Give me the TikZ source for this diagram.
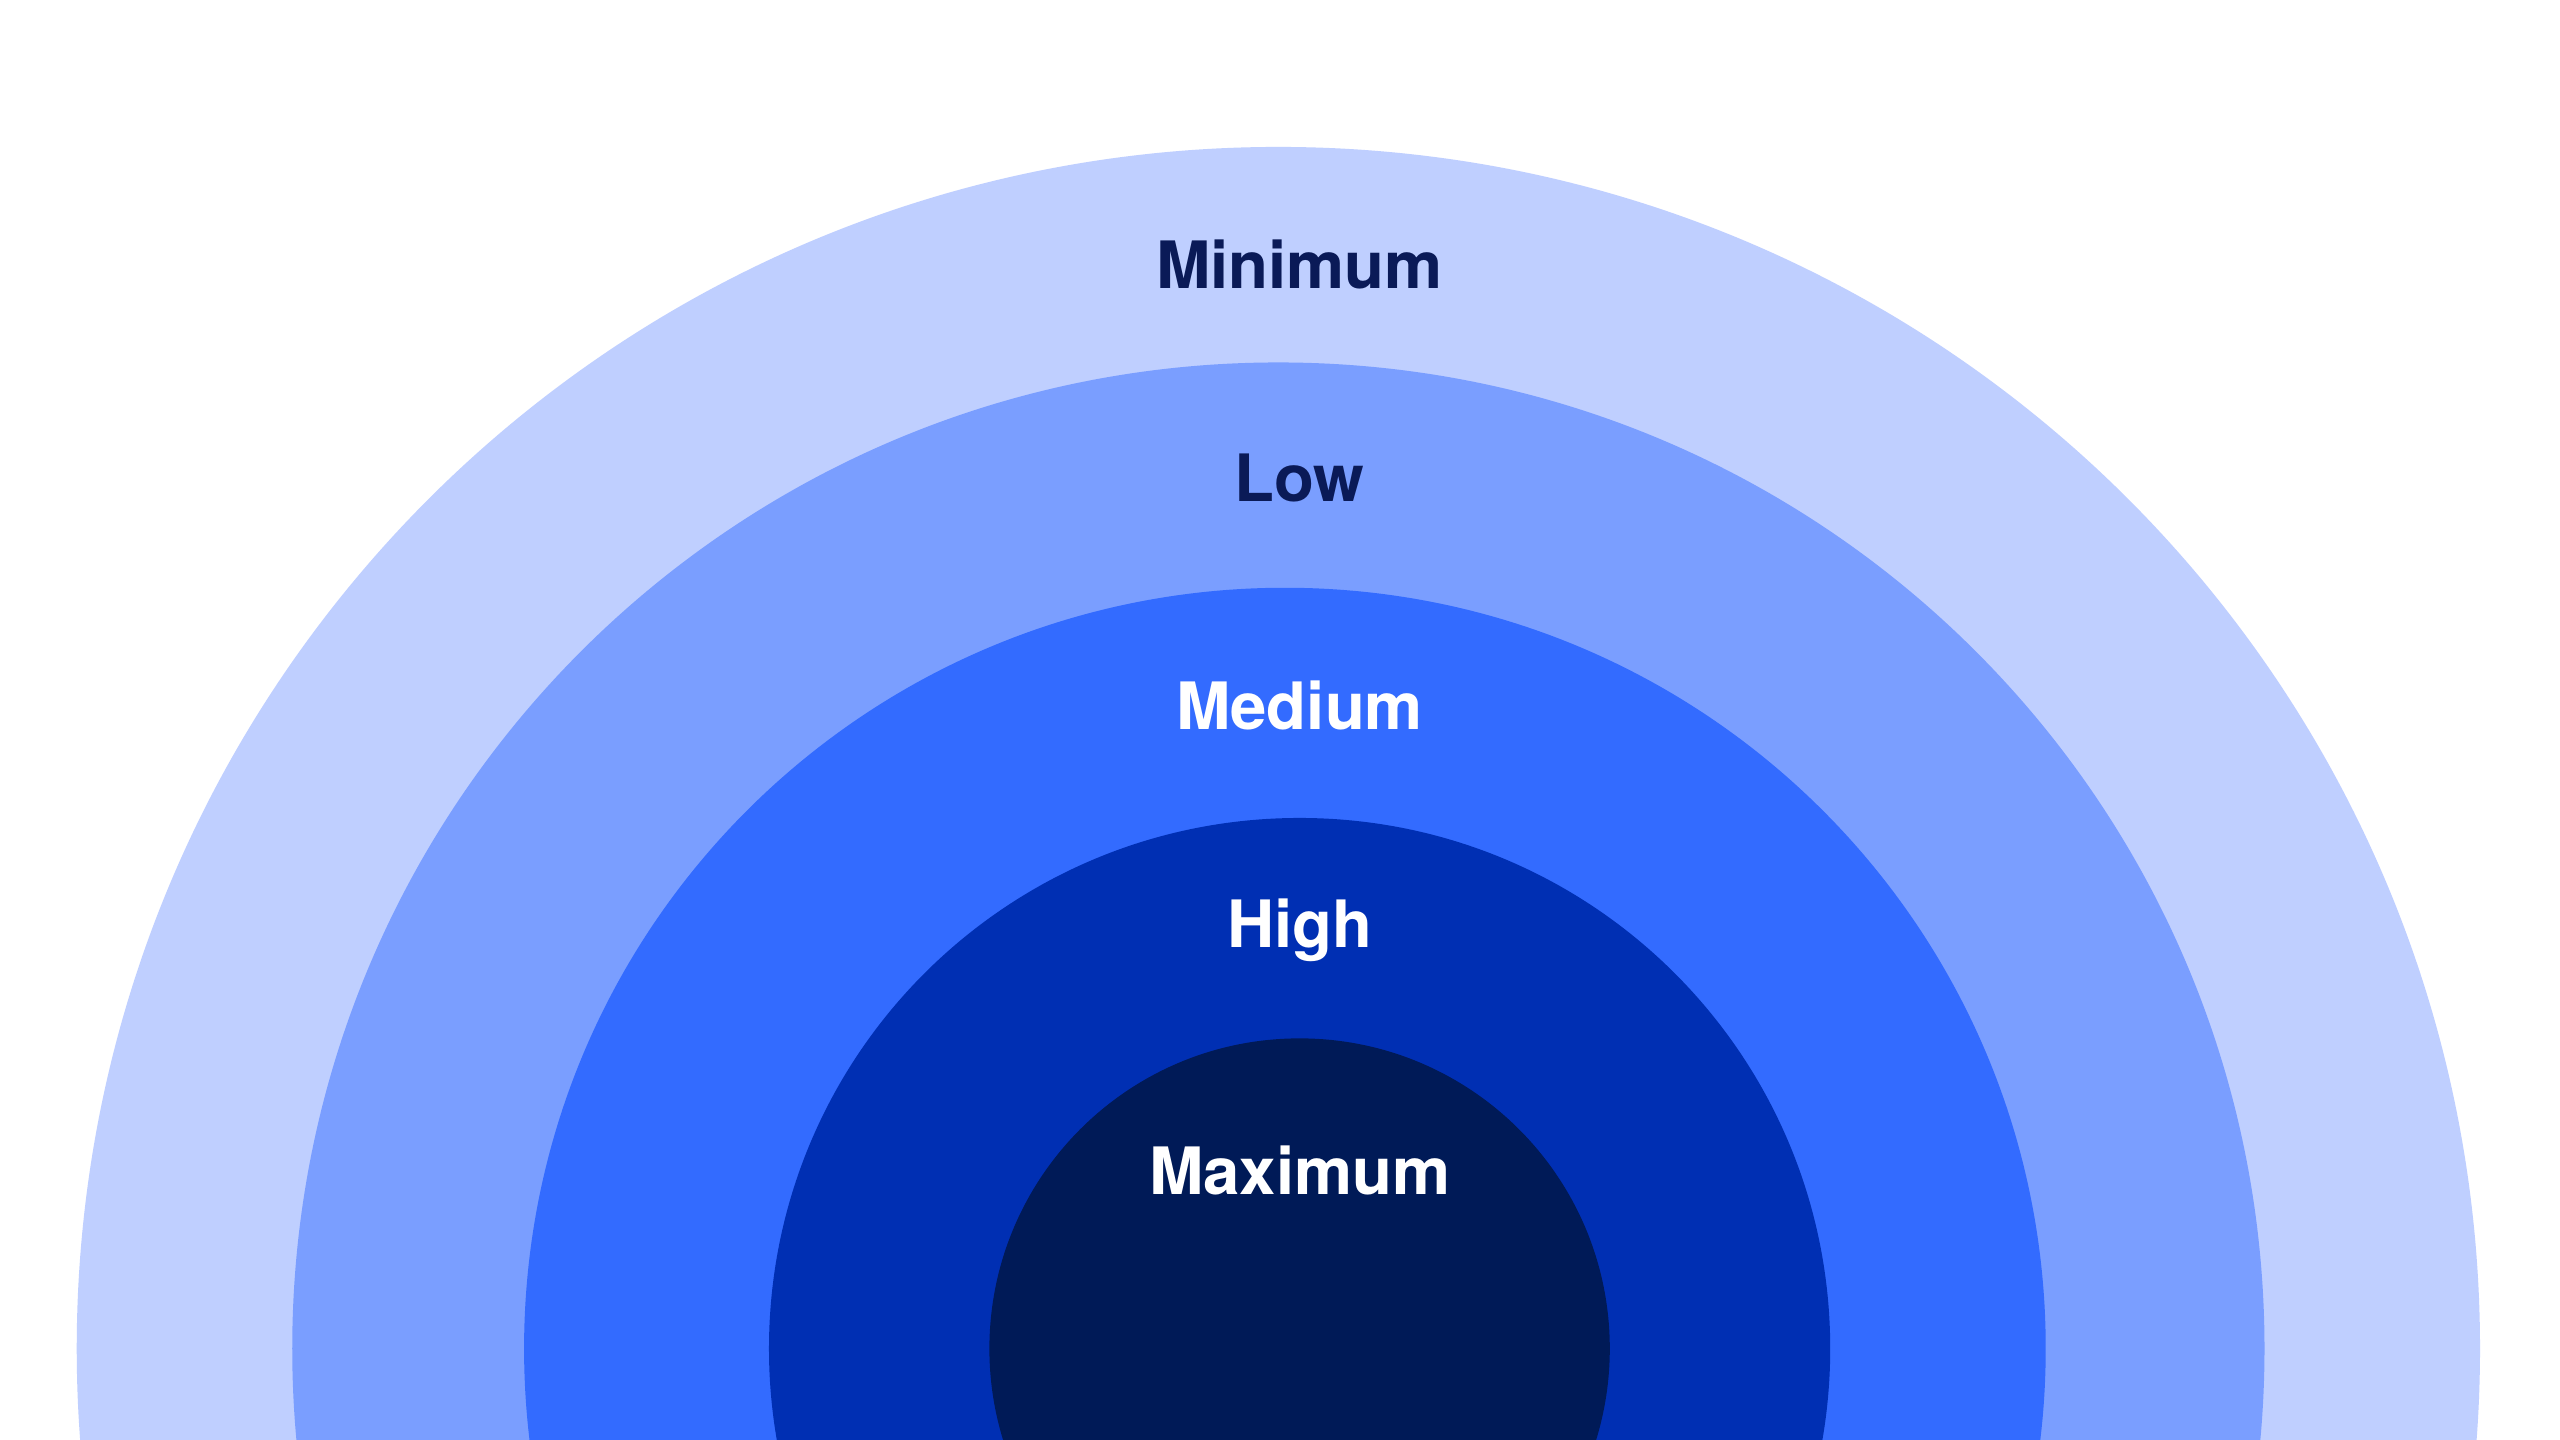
\documentclass[tikz,border=0pt]{standalone}
\usepackage{fontspec}
\setmainfont{TeX Gyre Heros}
\definecolor{ringA}{HTML}{BFCFFF}
\definecolor{ringB}{HTML}{7A9EFF}
\definecolor{ringC}{HTML}{336BFF}
\definecolor{ringD}{HTML}{002FB3}
\definecolor{ringE}{HTML}{001A57}
\definecolor{darktext}{HTML}{0A1A57}
\begin{document}
\begin{tikzpicture}[x=1pt,y=-1pt,
  level/.style={font=\bfseries\fontsize{40}{40}\selectfont}]

\clip (0,0) rectangle (1568,882);
\fill [white] (0,0) rectangle (1568,882);

\fill [ringA] (783,826) circle (736);
\fill [ringB] (783,826) circle (604);
\fill [ringC] (787,826) circle (466);
\fill [ringD] (796,826) circle (325);
\fill [ringE] (796,826) circle (190);

\node [level, text=darktext] (min) at (796,162) {Minimum};
\node [level, text=darktext] (low) at (796,293) {Low};
\node [level, text=white] (med) at (796,432) {Medium};
\node [level, text=white] (high) at (796,570) {High};
\node [level, text=white] (max) at (796,717) {Maximum};

\end{tikzpicture}
\end{document}
